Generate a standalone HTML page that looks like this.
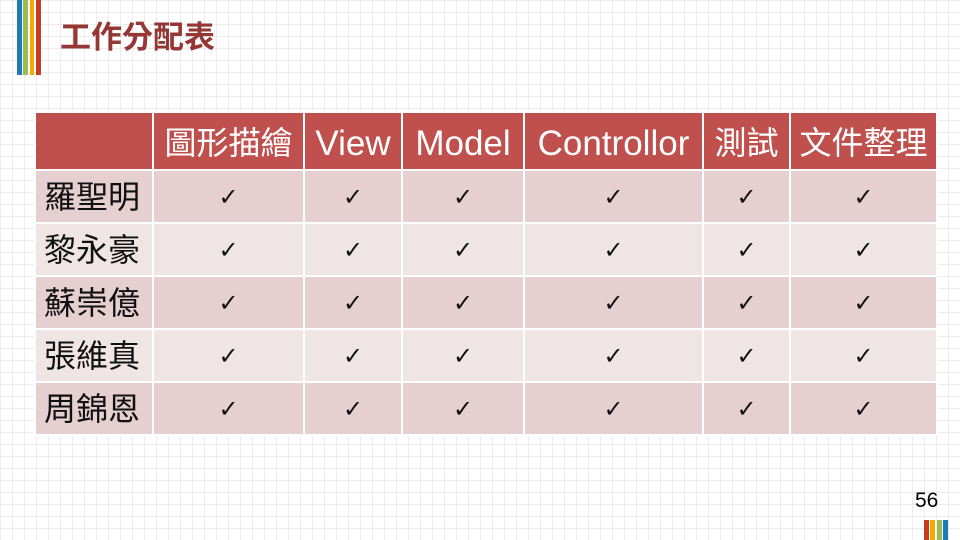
<!DOCTYPE html>
<html><head><meta charset="utf-8"><style>
body{margin:0}
#s{position:relative;width:960px;height:540px;overflow:hidden;background-color:#fff;
background-image:linear-gradient(#ececec 1px,transparent 1px),linear-gradient(90deg,#ececec 1px,transparent 1px);
background-size:12px 12px;font-family:"Liberation Sans","Noto Sans CJK TC",sans-serif}
.b{position:absolute}
table{position:absolute;left:34px;top:111px;border-collapse:collapse;font-family:"Liberation Sans","Noto Sans CJK TC",sans-serif}
td{border:2px solid #fff;text-align:center;padding:0;font-size:32px;line-height:1}
tr.h td{background:#c0504d;color:#fff;height:52px;padding-top:4px}
tr.h td.l{font-size:35px}
tr.o td{background:#e6cfd0;height:51px}
tr.e td{background:#f0e5e5;height:51px}
td.n{text-align:left;padding-left:8px;color:#111}
.c{font-family:"DejaVu Serif",serif;font-size:24px;color:#111}
</style></head><body><div id="s">
<div class="b" style="left:17px;top:0;width:5px;height:75px;background:#1f7bb6"></div>
<div class="b" style="left:23px;top:0;width:5px;height:75px;background:#9bbb59"></div>
<div class="b" style="left:30px;top:0;width:4px;height:75px;background:#f6a800"></div>
<div class="b" style="left:36px;top:0;width:5px;height:75px;background:#c83a22"></div>
<div class="b" style="left:60px;top:19px;font-size:31px;font-weight:bold;color:#953735;line-height:1.2">工作分配表</div>
<table>
<colgroup><col style="width:118px"><col style="width:151px"><col style="width:98px"><col style="width:122px"><col style="width:179px"><col style="width:87px"><col style="width:147px"></colgroup>
<tr class="h"><td></td><td>圖形描繪</td><td class="l">View</td><td class="l">Model</td><td class="l">Controllor</td><td>測試</td><td>文件整理</td></tr>
<tr class="o"><td class="n">羅聖明</td><td class="c">✓</td><td class="c">✓</td><td class="c">✓</td><td class="c">✓</td><td class="c">✓</td><td class="c">✓</td></tr>
<tr class="e"><td class="n">黎永豪</td><td class="c">✓</td><td class="c">✓</td><td class="c">✓</td><td class="c">✓</td><td class="c">✓</td><td class="c">✓</td></tr>
<tr class="o"><td class="n">蘇崇億</td><td class="c">✓</td><td class="c">✓</td><td class="c">✓</td><td class="c">✓</td><td class="c">✓</td><td class="c">✓</td></tr>
<tr class="e"><td class="n">張維真</td><td class="c">✓</td><td class="c">✓</td><td class="c">✓</td><td class="c">✓</td><td class="c">✓</td><td class="c">✓</td></tr>
<tr class="o"><td class="n">周錦恩</td><td class="c">✓</td><td class="c">✓</td><td class="c">✓</td><td class="c">✓</td><td class="c">✓</td><td class="c">✓</td></tr>
</table>
<div class="b" style="left:915px;top:489px;font-size:21px;color:#000">56</div>
<div class="b" style="left:924px;top:520px;width:5px;height:20px;background:#c83a22"></div>
<div class="b" style="left:930px;top:520px;width:5px;height:20px;background:#f6a800"></div>
<div class="b" style="left:937px;top:520px;width:5px;height:20px;background:#9bbb59"></div>
<div class="b" style="left:943px;top:520px;width:5px;height:20px;background:#1f7bb6"></div>
</div></body></html>
